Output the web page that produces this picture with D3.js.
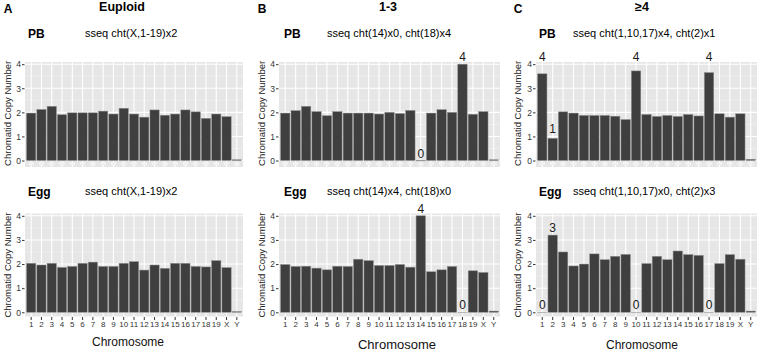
<!DOCTYPE html>
<html>
<head>
<meta charset="utf-8">
<script src="https://cdn.jsdelivr.net/npm/d3@7/dist/d3.min.js"></script>
<style>
  body { margin: 0; background: #fff; }
  svg { display: block; font-family: "Liberation Sans", Arial, sans-serif; }
</style>
</head>
<body>
<div id="chart"></div>
<script>
// Chromatid copy number per chromosome, three groups x (PB, Egg)

const chromosomes = ['1','2','3','4','5','6','7','8','9','10','11','12','13','14','15','16','17','18','19','X','Y'];

const euploidPB  = [1.97,2.12,2.25,1.9,1.98,1.98,1.98,2.05,1.93,2.17,1.93,1.8,2.1,1.88,1.93,2.1,2.02,1.75,1.93,1.82,0.03];
const euploidEgg = [2.03,1.96,2.03,1.86,1.9,2.03,2.08,1.9,1.9,2.03,2.1,1.75,1.96,1.82,2.03,2.03,1.9,1.88,2.14,1.85,0.03];

const low13PB  = [1.97,2.07,2.25,2.03,1.86,2.03,1.97,1.97,1.97,1.93,2.0,1.95,2.08,0,1.97,2.11,2.0,4.0,1.92,2.03,0.03];
const low13Egg = [1.98,1.9,1.91,1.83,1.76,1.91,1.9,2.2,2.14,1.94,1.94,1.98,1.87,4.0,1.68,1.76,1.9,0,1.72,1.65,0.05];

const high4PB  = [3.6,0.92,2.02,1.97,1.87,1.87,1.87,1.84,1.7,3.72,1.91,1.83,1.87,1.83,1.91,1.85,3.65,1.94,1.8,1.94,0.05];
const high4Egg = [0,3.2,2.5,1.92,2.0,2.42,2.18,2.32,2.4,0,2.02,2.32,2.18,2.54,2.39,2.36,0,2.02,2.39,2.2,0.05];

// copy-number calls written above bars
const low13PBLabels   = [{ chr: '14', n: 0 }, { chr: '18', n: 4 }];
const low13EggLabels  = [{ chr: '14', n: 4 }, { chr: '18', n: 0 }];
const high4PBLabels   = [{ chr: '1', n: 4 }, { chr: '2', n: 1 }, { chr: '10', n: 4 }, { chr: '17', n: 4 }];
const high4EggLabels  = [{ chr: '1', n: 0 }, { chr: '2', n: 3 }, { chr: '10', n: 0 }, { chr: '17', n: 0 }];

const yTicks = [0, 1, 2, 3, 4];

const groups = [
    { letter: 'A', title: 'Euploid', rows: [
        { sample: 'PB',  call: 'sseq cht(X,1-19)x2', values: euploidPB,  labels: [] },
        { sample: 'Egg', call: 'sseq cht(X,1-19)x2', values: euploidEgg, labels: [] }
    ]},
    { letter: 'B', title: '1-3', rows: [
        { sample: 'PB',  call: 'sseq cht(14)x0, cht(18)x4', values: low13PB,  labels: low13PBLabels },
        { sample: 'Egg', call: 'sseq cht(14)x4, cht(18)x0', values: low13Egg, labels: low13EggLabels }
    ]},
    { letter: 'C', title: '≥4', rows: [
        { sample: 'PB',  call: 'sseq cht(1,10,17)x4, cht(2)x1', values: high4PB,  labels: high4PBLabels },
        { sample: 'Egg', call: 'sseq cht(1,10,17)x0, cht(2)x3', values: high4Egg, labels: high4EggLabels }
    ]}
];

// layout (pixels)
const W = 763, H = 352;
const cols = [
    { left: 25,  right: 243, letterX: 8,   titleX: 122, sampleX: 28,  callX: 85,  axisTitleX: 7.5,   xTitleX: 128, xTitleY: 346, xTitleSize: 12 },
    { left: 279, right: 500, letterX: 262, titleX: 388, sampleX: 284, callX: 327, axisTitleX: 261.5, xTitleX: 397, xTitleY: 349, xTitleSize: 13 },
    { left: 536, right: 757, letterX: 518, titleX: 642, sampleX: 539, callX: 573, axisTitleX: 517.5, xTitleX: 642, xTitleY: 349, xTitleSize: 12 }
];
const rowsLayout = [
    { top: 62,    bottom: 167,   zero: 160.5, four: 64.2,  headY: 38 },
    { top: 213.5, bottom: 316.5, zero: 312.3, four: 215.8, headY: 196 }
];

const svg = d3.select('#chart')
    .append('svg')
    .attr('width', W)
    .attr('height', H);

groups.forEach((g, gi) => {
    const c = cols[gi];

    svg.append('text')
        .attr('x', c.letterX)
        .attr('y', 13)
        .attr('text-anchor', 'middle')
        .style('font-size', '12px')
        .style('font-weight', 'bold')
        .text(g.letter);

    svg.append('text')
        .attr('x', c.titleX)
        .attr('y', 10.5)
        .attr('text-anchor', 'middle')
        .style('font-size', '12.5px')
        .style('font-weight', 'bold')
        .text(g.title);

    const x = d3.scaleBand()
        .domain(chromosomes)
        .range([c.left, c.right])
        .paddingInner(0.1)
        .paddingOuter(0.15);

    g.rows.forEach((r, ri) => {
        const L = rowsLayout[ri];
        const y = d3.scaleLinear().domain([0, 4]).range([L.zero, L.four]);

        // row heading
        svg.append('text')
            .attr('x', c.sampleX)
            .attr('y', L.headY)
            .style('font-size', '12px')
            .style('font-weight', 'bold')
            .text(r.sample);

        svg.append('text')
            .attr('x', c.callX)
            .attr('y', L.headY - 1)
            .style('font-size', '11px')
            .text(r.call);

        // panel background and grid
        svg.append('rect')
            .attr('x', c.left)
            .attr('y', L.top)
            .attr('width', c.right - c.left)
            .attr('height', L.bottom - L.top)
            .style('fill', '#e6e6e6');

        svg.append('g')
            .selectAll('line')
            .data([0.5, 1.5, 2.5, 3.5])
            .join('line')
            .attr('x1', c.left).attr('x2', c.right)
            .attr('y1', d => y(d)).attr('y2', d => y(d))
            .style('stroke', '#f3f3f3')
            .style('stroke-width', 0.6);

        svg.append('g')
            .selectAll('line')
            .data(yTicks)
            .join('line')
            .attr('x1', c.left).attr('x2', c.right)
            .attr('y1', d => y(d)).attr('y2', d => y(d))
            .style('stroke', '#fff')
            .style('stroke-width', 1.1);

        svg.append('g')
            .selectAll('line')
            .data(chromosomes)
            .join('line')
            .attr('x1', d => x(d) + x.bandwidth() / 2)
            .attr('x2', d => x(d) + x.bandwidth() / 2)
            .attr('y1', L.top).attr('y2', L.bottom)
            .style('stroke', '#fff')
            .style('stroke-width', 1.1);

        // faint leftovers under the top panels
        if (ri === 0) {
            svg.append('g')
                .selectAll('rect')
                .data(chromosomes)
                .join('rect')
                .attr('x', d => x(d) + x.bandwidth() * 0.2)
                .attr('y', 162.2)
                .attr('width', x.bandwidth() * 0.6)
                .attr('height', 3)
                .style('fill', '#f2f2f2');
        }

        // bars
        svg.append('g')
            .selectAll('rect')
            .data(chromosomes.map((chr, i) => ({ chr, v: r.values[i] })))
            .join('rect')
            .attr('x', d => x(d.chr))
            .attr('y', d => y(d.v))
            .attr('width', x.bandwidth())
            .attr('height', d => Math.max(0.4, y(0) - y(d.v)))
            .style('fill', d => d.v > 0 ? '#3f3f3f' : '#bdbdbd')
            .style('stroke', '#8c8c8c')
            .style('stroke-width', 0.5);

        // copy-number call labels
        svg.append('g')
            .selectAll('text')
            .data(r.labels)
            .join('text')
            .attr('x', d => x(d.chr) + x.bandwidth() / 2)
            .attr('y', d => y(Math.max(d.n, r.values[chromosomes.indexOf(d.chr)])) - 3)
            .attr('text-anchor', 'middle')
            .style('font-size', '12px')
            .style('fill', '#1a1a1a')
            .text(d => d.n);

        // y axis
        const yAxis = svg.append('g')
            .attr('transform', `translate(${c.left - 0.5},0)`)
            .call(d3.axisLeft(y)
                .tickValues(yTicks)
                .tickFormat(d3.format('d'))
                .tickSize(2.5)
                .tickPadding(1));
        yAxis.select('.domain').remove();
        yAxis.selectAll('line').attr('stroke', '#333');
        yAxis.selectAll('text')
            .attr('fill', '#333')
            .style('font-size', '8.5px');

        svg.append('text')
            .attr('x', -((L.zero + L.four) / 2 + 1))
            .attr('y', c.axisTitleX + 3.5)
            .attr('transform', 'rotate(-90)')
            .attr('text-anchor', 'middle')
            .style('font-size', '9.5px')
            .style('fill', '#222')
            .text('Chromatid Copy Number');

        // x axis only on the bottom row
        if (ri === 1) {
            const xAxis = svg.append('g')
                .attr('transform', `translate(0,${L.bottom + 0.5})`)
                .call(d3.axisBottom(x).tickSize(3).tickPadding(1.5));
            xAxis.select('.domain').remove();
            xAxis.selectAll('line').attr('stroke', '#333');
            xAxis.selectAll('text')
                .attr('fill', '#333')
                .style('font-size', '8px');

            svg.append('text')
                .attr('x', c.xTitleX)
                .attr('y', c.xTitleY)
                .attr('text-anchor', 'middle')
                .style('font-size', c.xTitleSize + 'px')
                .style('fill', '#111')
                .text('Chromosome');
        }
    });
});
</script>
</body>
</html>
